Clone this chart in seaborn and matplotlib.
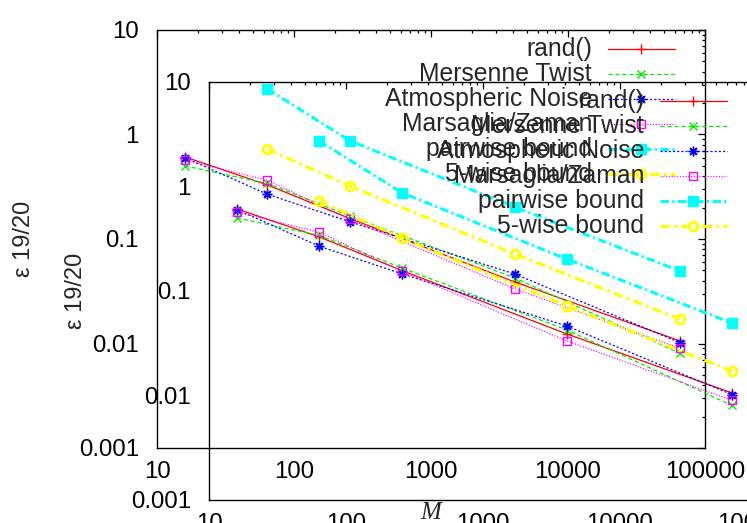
import matplotlib
matplotlib.use("Agg")
import matplotlib.pyplot as plt
import matplotlib.ticker as mticker
from matplotlib.lines import Line2D
import pandas as pd
import seaborn as sns

# sample sizes M
m_runs = [16, 64, 256, 4096, 65536]
m_bounds = [64, 256, 4096, 65536]

# epsilon 19/20
rand_eps = [0.61, 0.329, 0.157, 0.0388, 0.0106]
mt_eps = [0.50, 0.34, 0.166, 0.0424, 0.00805]
atm_eps = [0.60, 0.268, 0.146, 0.0462, 0.0102]
mz_eps = [0.57, 0.365, 0.154, 0.0333, 0.0090]
pair_eps = [2.72, 0.87, 0.202, 0.0494]
five_eps = [0.726, 0.321, 0.0718, 0.0171]

series_names = ["rand()", "Mersenne Twist", "Atmospheric Noise",
                "Marsaglia/Zaman", "pairwise bound", "5-wise bound"]
series_x = [m_runs, m_runs, m_runs, m_runs, m_bounds, m_bounds]
series_y = [rand_eps, mt_eps, atm_eps, mz_eps, pair_eps, five_eps]

x_ticks = [10, 100, 1000, 10000, 100000]
y_ticks = [0.001, 0.01, 0.1, 1, 10]

# gnuplot-ish styles
styles = [
    dict(color="#ff0000", lw=0.9, ls="-", marker="+", ms=7, mfc="none", mew=1.0),
    dict(color="#00ee00", lw=0.9, ls=(0, (3, 2)), marker="x", ms=5.5, mfc="none", mew=1.0),
    dict(color="#0000ff", lw=0.9, ls=(0, (1.5, 1.5)), marker=(8, 2, 0), ms=7, mfc="none", mew=1.0),
    dict(color="#ff00ff", lw=0.9, ls=(0, (0.8, 1.2)), marker="s", ms=5.5, mfc="none", mew=1.0),
    dict(color="#00ffff", lw=2.2, ls=(0, (6, 2.5, 1.5, 2.5)), marker="s", ms=6.5, mfc="#00ffff", mew=1.0),
    dict(color="#ffff00", lw=2.2, ls=(0, (7, 3, 2, 3)), marker="o", ms=6.5, mfc="none", mew=2.0),
]

sns.set_style("white")
plt.rcParams["font.family"] = ["Liberation Sans", "DejaVu Sans"]
plt.rcParams["lines.scale_dashes"] = False
plt.rcParams["axes.linewidth"] = 1.0


def draw_panel(ax):
    for name, xs, ys, st in zip(series_names, series_x, series_y, styles):
        df = pd.DataFrame({"M": xs, "eps": ys})
        sns.lineplot(data=df, x="M", y="eps", ax=ax, color=st["color"],
                     linewidth=st["lw"], linestyle=st["ls"], marker=st["marker"],
                     markersize=st["ms"], markerfacecolor=st["mfc"],
                     markeredgecolor=st["color"], markeredgewidth=st["mew"])

    ax.set_xscale("log")
    ax.set_yscale("log")
    ax.set_xlim(10, 100000)
    ax.set_ylim(0.001, 10)
    ax.set_xticks(x_ticks)
    ax.set_yticks(y_ticks)
    fmt = mticker.FuncFormatter(lambda v, _: f"{v:g}")
    ax.xaxis.set_major_formatter(fmt)
    ax.yaxis.set_major_formatter(fmt)
    ax.xaxis.set_minor_locator(mticker.LogLocator(base=10, subs=range(2, 10)))
    ax.yaxis.set_minor_locator(mticker.LogLocator(base=10, subs=range(2, 10)))
    ax.xaxis.set_minor_formatter(mticker.NullFormatter())
    ax.yaxis.set_minor_formatter(mticker.NullFormatter())
    ax.tick_params(which="both", direction="in", top=True, right=True, width=0.9,
                   colors="black", labelsize=17.3)
    ax.tick_params(which="major", length=5)
    ax.tick_params(which="minor", length=2.5)
    ax.tick_params(axis="x", which="major", pad=9)
    ax.tick_params(axis="y", which="major", pad=13)
    for sp in ax.spines.values():
        sp.set_color("black")
        sp.set_linewidth(1.0)

    ax.set_xlabel("M", fontsize=18, fontstyle="italic", family="Liberation Serif")
    ax.xaxis.set_label_coords(0.5, -0.13)
    ax.set_ylabel("ε 19/20", fontsize=17)
    ax.yaxis.set_label_coords(-0.222, 0.5)

    # key, gnuplot style: text right-aligned, sample on the right
    for i, (name, st) in enumerate(zip(series_names, styles)):
        yk = 0.954 - i * 0.0598
        ax.text(0.794, yk, name, transform=ax.transAxes, ha="right", va="center",
                fontsize=17.8)
        ax.add_line(Line2D([0.823, 0.945], [yk, yk], transform=ax.transAxes,
                           color=st["color"], lw=st["lw"], ls=st["ls"]))
        ax.add_line(Line2D([0.883], [yk], transform=ax.transAxes, ls="none",
                           marker=st["marker"], ms=st["ms"], mfc=st["mfc"],
                           mec=st["color"], mew=st["mew"]))


fig = plt.figure(figsize=(7.47, 5.23), dpi=100)
fig.patch.set_facecolor("white")

# two copies of the same plot, the second one shifted down-right
ax_back = fig.add_axes([157 / 747, 75 / 523, 548 / 747, 418 / 523])
ax_front = fig.add_axes([209 / 747, 23 / 523, 548 / 747, 418 / 523])
for ax in (ax_back, ax_front):
    ax.set_facecolor("none")
    draw_panel(ax)

fig.savefig("out.png", dpi=100)
